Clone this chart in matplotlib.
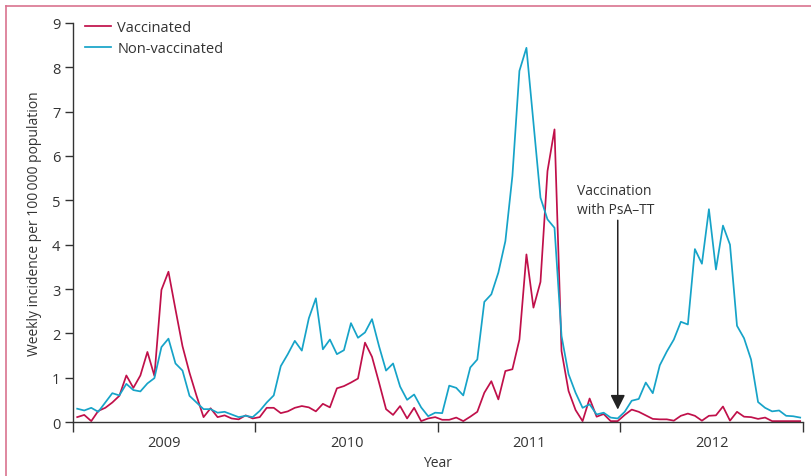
import numpy as np
import matplotlib
matplotlib.use("Agg")
import matplotlib.pyplot as plt
from matplotlib.lines import Line2D

plt.rcParams['font.family'] = ['Open Sans', 'DejaVu Sans']

# Fortnightly incidence per 100 000, 26 points per year, 2009-2012
vaccinated = [
    0.11, 0.16, 0.02, 0.25, 0.32, 0.44, 0.59, 1.05, 0.77, 1.05, 1.58, 1.04, 2.98,
    3.39, 2.54, 1.71, 1.11, 0.59, 0.11, 0.31, 0.11, 0.15, 0.08, 0.06, 0.15, 0.08,
    0.11, 0.32, 0.32, 0.20, 0.24, 0.32, 0.36, 0.33, 0.24, 0.41, 0.33, 0.76, 0.81,
    0.89, 0.98, 1.79, 1.47, 0.89, 0.29, 0.16, 0.36, 0.08, 0.32, 0.02, 0.08, 0.11,
    0.05, 0.05, 0.10, 0.02, 0.12, 0.23, 0.66, 0.92, 0.51, 1.15, 1.19, 1.86, 3.78,
    2.58, 3.16, 5.66, 6.60, 1.60, 0.70, 0.27, 0.02, 0.53, 0.12, 0.18, 0.02, 0.02,
    0.16, 0.28, 0.23, 0.15, 0.07, 0.06, 0.06, 0.03, 0.14, 0.19, 0.14, 0.03, 0.14,
    0.15, 0.35, 0.03, 0.23, 0.12, 0.11, 0.07, 0.10, 0.02, 0.02, 0.02, 0.02, 0.02,
]
non_vaccinated = [
    0.30, 0.26, 0.32, 0.23, 0.44, 0.65, 0.60, 0.86, 0.72, 0.69, 0.87, 0.99, 1.69,
    1.88, 1.32, 1.16, 0.59, 0.44, 0.29, 0.29, 0.21, 0.23, 0.17, 0.11, 0.14, 0.11,
    0.25, 0.44, 0.60, 1.26, 1.53, 1.83, 1.61, 2.34, 2.79, 1.64, 1.86, 1.53, 1.62,
    2.23, 1.90, 2.02, 2.32, 1.71, 1.16, 1.32, 0.80, 0.50, 0.62, 0.33, 0.13, 0.21,
    0.20, 0.82, 0.77, 0.60, 1.23, 1.41, 2.71, 2.88, 3.37, 4.08, 5.55, 7.92, 8.44,
    6.75, 5.06, 4.57, 4.38, 1.94, 1.08, 0.66, 0.32, 0.40, 0.17, 0.21, 0.10, 0.08,
    0.23, 0.48, 0.52, 0.89, 0.65, 1.28, 1.59, 1.86, 2.26, 2.20, 3.90, 3.57, 4.80,
    3.44, 4.43, 4.00, 2.17, 1.89, 1.41, 0.45, 0.32, 0.24, 0.26, 0.14, 0.13, 0.10,
]
years = [2009, 2010, 2011, 2012]
vacc_date = 2011.985

x = 2009 + (np.arange(len(vaccinated)) + 0.6) / 26

red = "#c0104a"
blue = "#16a3c8"
dark = "#333333"

fig = plt.figure(figsize=(8.12, 4.77), dpi=100)
ax = fig.add_axes([0.0899, 0.1132, 0.899, 0.8365])

ax.plot(x, vaccinated, color=red, lw=1.25, label="Vaccinated")
ax.plot(x, non_vaccinated, color=blue, lw=1.25, label="Non-vaccinated")

ax.set_xlim(2009, 2013)
ax.set_ylim(0, 9)
ax.set_yticks(range(10))
ax.set_xticks([2009, 2010, 2011, 2012, 2013])
ax.set_xticklabels([])
ax.set_xticks([y + 0.5 for y in years], minor=True)
ax.set_xticklabels([str(y) for y in years], minor=True)
ax.tick_params(axis="x", which="major", length=7, width=1, color=dark, direction="out")
ax.tick_params(axis="x", which="minor", length=0, pad=9, labelsize=10.5, labelcolor=dark)
ax.tick_params(axis="y", length=6, width=1, color=dark, labelsize=10.5, labelcolor=dark, pad=3)

for s in ["top", "right"]:
    ax.spines[s].set_visible(False)
for s in ["left", "bottom"]:
    ax.spines[s].set_color(dark)
    ax.spines[s].set_linewidth(1)

ax.set_xlabel("Year", fontsize=10, color=dark, labelpad=4)
ax.set_ylabel("Weekly incidence per 100\u2009000 population", fontsize=10, color=dark, labelpad=7)

ax.legend(loc="upper left", bbox_to_anchor=(-0.002, 1.04), frameon=False, fontsize=10.5,
          handlelength=1.8, handletextpad=0.45, labelspacing=0.4, labelcolor=dark)

ax.annotate("", xy=(vacc_date, 0.28), xytext=(vacc_date, 4.55),
            arrowprops=dict(arrowstyle="-|>", color="#222222", lw=1.1,
                            mutation_scale=22, shrinkA=0, shrinkB=0))
ax.text(2011.762, 4.62, "Vaccination\nwith PsA\u2013TT", ha="left", va="bottom",
        fontsize=10, color=dark, linespacing=1.4)

# pink panel border
fig.add_artist(Line2D([6 / 812, 6 / 812], [0, 1 - 7 / 477], transform=fig.transFigure,
                      color="#d9738f", lw=1.2))
fig.add_artist(Line2D([6 / 812, 1], [1 - 7 / 477, 1 - 7 / 477], transform=fig.transFigure,
                      color="#d9738f", lw=1.2))

fig.savefig("out.png", dpi=100)
